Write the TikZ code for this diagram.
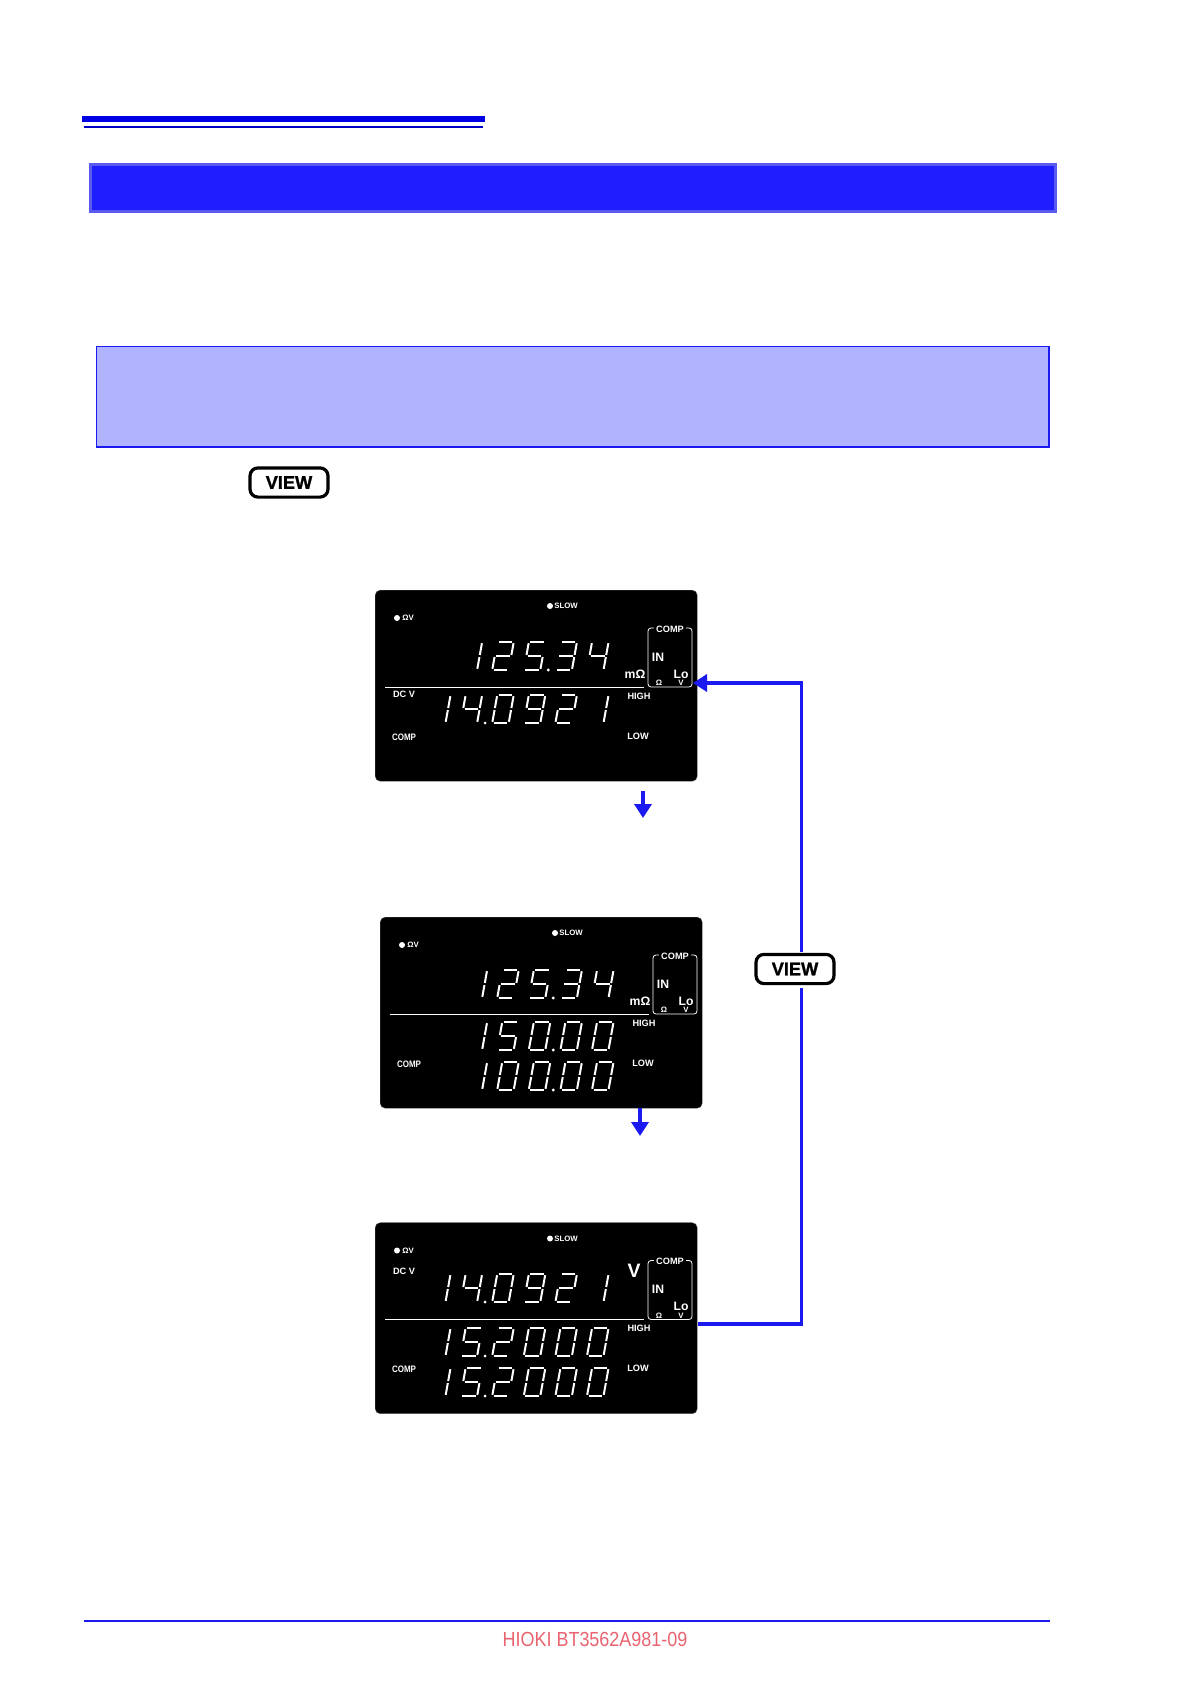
\documentclass[tikz,border=0pt]{standalone}
\usepackage{fontspec}
\setmainfont{Liberation Sans}
\newfontfamily\keyfont[FakeBold=1.2]{Liberation Sans}
\usetikzlibrary{arrows.meta}
\definecolor{barblue}{HTML}{0000E6}
\definecolor{bannerblue}{HTML}{1E1EFF}
\definecolor{banneredge}{HTML}{5A5AF0}
\definecolor{noteblue}{HTML}{B0B4FF}
\definecolor{flowblue}{HTML}{1A1AF0}
\definecolor{footred}{HTML}{E8636F}
\tikzset{
  lcdseg/.style={white,line width=1pt},
  lbl/.style={white,inner sep=0pt,font=\bfseries\fontsize{4.6}{5}\selectfont},
  lblsmall/.style={white,inner sep=0pt,font=\bfseries\fontsize{3.9}{5}\selectfont},
  lblthin/.style={white,inner sep=0pt,xscale=0.85,transform shape,font=\bfseries\fontsize{4.7}{5}\selectfont},
  lblbig/.style={white,inner sep=0pt,font=\bfseries\fontsize{6.1}{7}\selectfont},
  keybtn/.style={draw=black,fill=white,line width=1.6pt,rounded corners=4pt,minimum width=39pt,minimum height=14.6pt,inner sep=0pt,font=\keyfont\bfseries\fontsize{9.1}{10}\selectfont},
  flow/.style={flowblue,line width=1.7pt},
}
% seven segments, origin bottom left
\newcommand{\sega}{\draw[lcdseg] (1.5,-28) -- (15,-28);}
\newcommand{\segb}{\draw[lcdseg] (16.5,-26.8) -- (16.5,-15);}
\newcommand{\segc}{\draw[lcdseg] (16.5,-13) -- (16.5,-1.2);}
\newcommand{\segd}{\draw[lcdseg] (1.5,0) -- (15,0);}
\newcommand{\sege}{\draw[lcdseg] (0,-1.2) -- (0,-13);}
\newcommand{\segf}{\draw[lcdseg] (0,-26.8) -- (0,-15);}
\newcommand{\segg}{\draw[lcdseg] (1.5,-14) -- (15,-14);}
\expandafter\def\csname dig0\endcsname{a,b,c,d,e,f}
\expandafter\def\csname dig1\endcsname{b,c}
\expandafter\def\csname dig2\endcsname{a,b,g,e,d}
\expandafter\def\csname dig3\endcsname{a,b,g,c,d}
\expandafter\def\csname dig4\endcsname{f,g,b,c}
\expandafter\def\csname dig5\endcsname{a,f,g,c,d}
\expandafter\def\csname dig9\endcsname{a,b,c,d,f,g}
% #1 bottom of row, #2 cell/digit list, #3 cell with the decimal point
\newcommand{\lcdrow}[3]{
  \foreach \cell/\dig in {#2}{
    \begin{scope}[shift={(54.5+31.6*\cell-0.5,#1)},xslant=0.18]
      \expandafter\let\expandafter\seglist\csname dig\dig\endcsname
      \foreach \s in \seglist {\csname seg\s\endcsname}
    \end{scope}
  }
  \fill[white] (76+31.6*#3+2.5,#1) circle (1.6);
}
% panel with what all three displays share
\newcommand{\lcdpanel}[3]{
  \node[fill=black,draw=black!70,line width=0.2pt,rounded corners=2.5pt,minimum width=161pt,minimum height=95.5pt,inner sep=0pt,anchor=north west] (#1) at (#2,#3) {};
  \begin{scope}[shift={(#2,#3)}]
    \fill[white] (22,28) circle (3);
    \node[lblsmall] (#1ov) at (33,28) {ΩV};
    \fill[white] (175,16) circle (3);
    \node[lblsmall] (#1slow) at (191,16) {SLOW};
    \draw[white,line width=0.5pt] (10,97) -- (269,97);
    \draw[white,line width=0.4pt,rounded corners=1.5pt] (273,38) rectangle (317,97);
    \node[lbl,fill=black,inner xsep=1pt] (#1box) at (295,39) {COMP};
    \node[lblbig] (#1in) at (283,67) {IN};
    \node[lblbig] (#1lo) at (306,84) {Lo};
    \node[lblsmall] (#1om) at (284,93) {Ω};
    \node[lblsmall] (#1v) at (306,93) {V};
    \node[lbl] (#1high) at (264,106) {HIGH};
    \node[lbl] (#1low) at (263,146) {LOW};
    \node[lblthin] (#1comp) at (29,147) {COMP};
  \end{scope}
}
\begin{document}
\begin{tikzpicture}[x=0.5pt,y=-0.5pt,>={Triangle[length=7pt,width=8.5pt]}]
  \useasboundingbox (0,0) rectangle (1191,1684);
  %header bars
  \fill[barblue] (82,116) rectangle (485,122);
  \fill[barblue!85!black] (84,126.5) rectangle (483,128.5);
  \draw[fill=bannerblue,draw=banneredge,line width=1.5pt] (90.5,164.5) rectangle (1055.5,211.5);
  %note box
  \draw[fill=noteblue,draw=flowblue,line width=0.9pt] (96.5,346.5) rectangle (1049,447);
  \node[keybtn] (viewA) at (289,482.5) {VIEW};
  %display 1
  \lcdpanel{panelA}{375}{590}
  \begin{scope}[shift={(375,590)}]
    \node[lblbig] (panelAunit) at (260,84) {mΩ};
    \node[lbl] (panelAdc) at (29,104) {DC V};
    \lcdrow{80}{1/1,2/2,3/5,4/3,5/4}{3}
    \lcdrow{133}{0/1,1/4,2/0,3/9,4/2,5/1}{1}
  \end{scope}
  %display 2
  \lcdpanel{panelB}{380}{917}
  \begin{scope}[shift={(380,917)}]
    \node[lblbig] (panelBunit) at (260,84) {mΩ};
    \lcdrow{81}{1/1,2/2,3/5,4/3,5/4}{3}
    \lcdrow{133}{1/1,2/5,3/0,4/0,5/0}{3}
    \lcdrow{173}{1/1,2/0,3/0,4/0,5/0}{3}
  \end{scope}
  %display 3
  \lcdpanel{panelC}{375}{1222.5}
  \begin{scope}[shift={(375,1222)}]
    \node[white,inner sep=0pt,font=\bfseries\fontsize{9.7}{10}\selectfont] (panelCunit) at (259,49) {V};
    \node[lbl] (panelCdc) at (29,49) {DC V};
    \lcdrow{80}{0/1,1/4,2/0,3/9,4/2,5/1}{1}
    \lcdrow{134}{0/1,1/5,2/2,3/0,4/0,5/0}{1}
    \lcdrow{174}{0/1,1/5,2/2,3/0,4/0,5/0}{1}
  \end{scope}
  %arrows down
  \coordinate (downa) at (643,791);
  \coordinate (downb) at (643,818);
  \coordinate (downc) at (640,1108);
  \coordinate (downd) at (640,1136);
  \draw[->,flow] (downa) -- (downb);
  \draw[->,flow] (downc) -- (downd);
  %loop back
  \node[keybtn] (viewB) at (795,969) {VIEW};
  \coordinate (loopa) at (698,1324);
  \coordinate (loopb) at (801.5,1324);
  \coordinate (loopc) at (801.5,988);
  \coordinate (loopd) at (801.5,952);
  \coordinate (loope) at (801.5,683);
  \coordinate (loopf) at (693,683);
  \draw[flow] (loopa) -- (loopb) -- (loopc);
  \draw[->,flow] (loopd) -- (loope) -- (loopf);
  %footer
  \draw[flowblue,line width=1pt] (84,1621) -- (1050,1621);
  \node[footred,inner sep=0pt,xscale=0.88,transform shape,font=\fontsize{10.2}{12}\selectfont] (foot) at (595,1639) {HIOKI BT3562A981-09};
\end{tikzpicture}
\end{document}
